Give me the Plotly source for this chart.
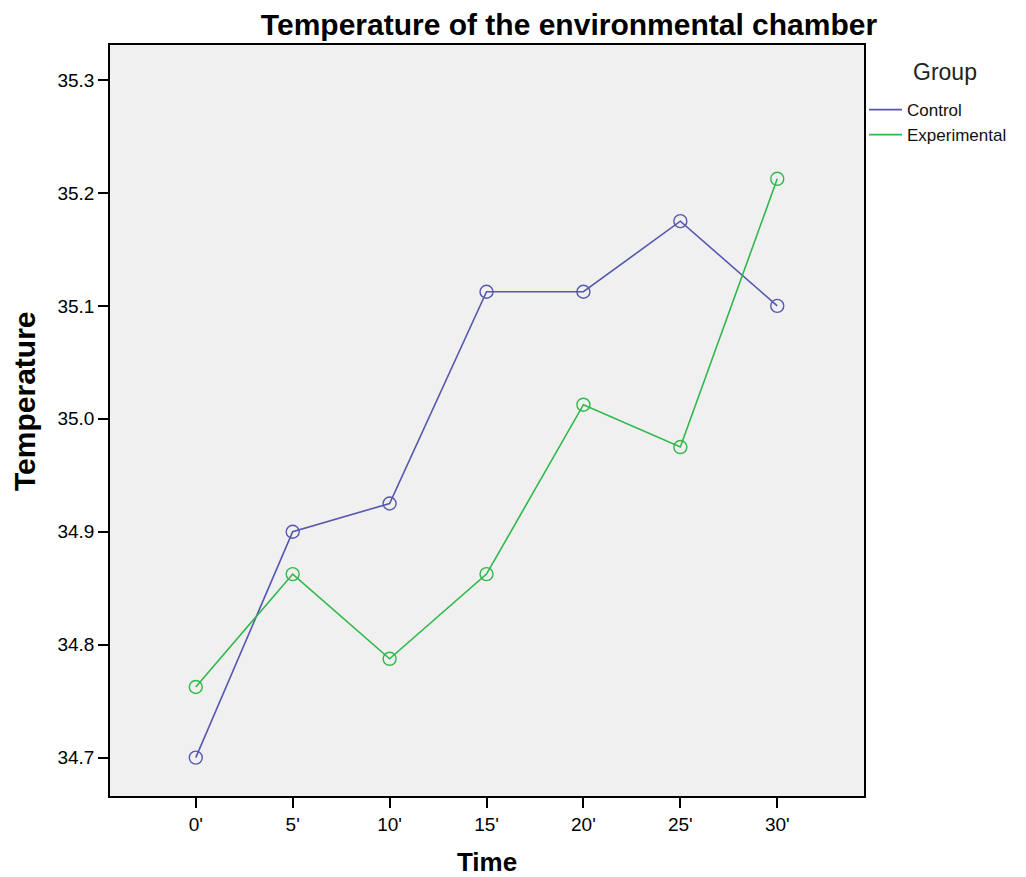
import plotly.graph_objects as go

time_labels = ["0'", "5'", "10'", "15'", "20'", "25'", "30'"]
control = [34.70, 34.90, 34.925, 35.1125, 35.1125, 35.175, 35.10]
experimental = [34.7625, 34.8625, 34.7875, 34.8625, 35.0125, 34.975, 35.2125]
y_ticks = [34.7, 34.8, 34.9, 35.0, 35.1, 35.2, 35.3]
groups = ["Control", "Experimental"]
colors = ["#5558ad", "#30b84a"]

FONT = "Liberation Sans, Arial, sans-serif"
x_idx = list(range(len(time_labels)))

W, H = 1018, 869
L, T, R, B = 102, 37, 162, 81
PW, PH = W - L - R, H - T - B

fig = go.Figure()
for name, vals, col in zip(groups, [control, experimental], colors):
    fig.add_trace(go.Scatter(
        x=x_idx, y=vals, name=name, mode="lines+markers", showlegend=False,
        line=dict(color=col, width=1.6),
        marker=dict(symbol="circle-open", size=13, color=col, line=dict(width=1.4)),
    ))
    # legend entry drawn as a plain line sample
    fig.add_trace(go.Scatter(
        x=[None], y=[None], name=name, mode="lines",
        line=dict(color=col, width=1.8),
    ))

fig.update_layout(
    width=W, height=H,
    margin=dict(l=L, r=R, t=T, b=B),
    paper_bgcolor="white", plot_bgcolor="#f0f0f0",
    font=dict(family=FONT, size=19, color="black"),
    title=dict(text="<b>Temperature of the environmental chamber</b>",
               x=561 / W, xanchor="center", y=1 - 16 / H, yanchor="middle",
               font=dict(size=30, family=FONT, color="black")),
    showlegend=True,
    legend=dict(x=1.0, xanchor="left", y=1 - 47 / PH, yanchor="top",
                bgcolor="rgba(0,0,0,0)", font=dict(size=17, family=FONT, color="#111"),
                itemwidth=33, tracegroupgap=0, borderwidth=0),
    xaxis=dict(
        range=[-0.885, 6.895], tickmode="array", tickvals=x_idx, ticktext=time_labels,
        showgrid=False, zeroline=False, showline=True, linecolor="black", linewidth=1.5,
        mirror=True, ticks="outside", ticklen=10, tickwidth=1.5, tickcolor="black",
        tickfont=dict(size=19), automargin=False,
        title=dict(text="<b>Time</b>", font=dict(size=26), standoff=20),
    ),
    yaxis=dict(
        range=[34.666, 35.331], tickmode="array", tickvals=y_ticks,
        ticktext=[f"{v:.1f}" for v in y_ticks],
        showgrid=False, zeroline=False, showline=True, linecolor="black", linewidth=1.5,
        mirror=True, ticks="outside", ticklen=10, tickwidth=1.5, tickcolor="black",
        tickfont=dict(size=19), automargin=False,
    ),
    annotations=[
        dict(text="Group", xref="paper", yref="paper",
             x=(945 - 8 - L) / PW, y=1 - (72 - 8 - T) / PH,
             xanchor="center", yanchor="middle",
             showarrow=False, font=dict(size=23, family=FONT, color="#222")),
        dict(text="<b>Temperature</b>", xref="paper", yref="paper",
             x=(24 - 8 - L) / PW, y=1 - (401 - 8 - T) / PH, textangle=-90,
             xanchor="center", yanchor="middle",
             showarrow=False, font=dict(size=30, family=FONT, color="black")),
    ],
)

fig.write_html("out.html")
